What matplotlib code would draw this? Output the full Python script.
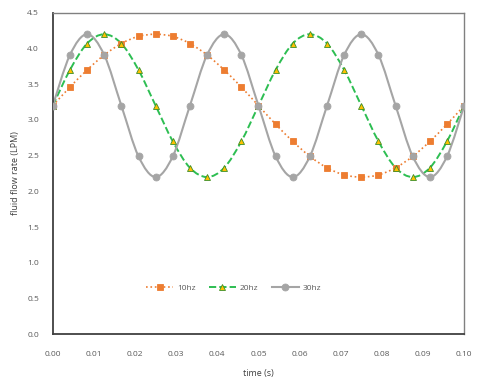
import matplotlib.pyplot as plt
from matplotlib.path import Path
from matplotlib.patches import PathPatch
from matplotlib.lines import Line2D
import numpy as np

# time samples (s), 24 steps over 0.1 s
time_s = [k * 0.1 / 24 for k in range(25)]

flow_10hz = [3.20, 3.46, 3.70, 3.91, 4.07, 4.17, 4.20, 4.17, 4.07, 3.91, 3.70, 3.46,
             3.20, 2.94, 2.70, 2.49, 2.33, 2.23, 2.20, 2.23, 2.33, 2.49, 2.70, 2.94, 3.20]
flow_20hz = [3.20, 3.70, 4.07, 4.20, 4.07, 3.70, 3.20, 2.70, 2.33, 2.20, 2.33, 2.70,
             3.20, 3.70, 4.07, 4.20, 4.07, 3.70, 3.20, 2.70, 2.33, 2.20, 2.33, 2.70, 3.20]
flow_30hz = [3.20, 3.91, 4.20, 3.91, 3.20, 2.49, 2.20, 2.49, 3.20, 3.91, 4.20, 3.91,
             3.20, 2.49, 2.20, 2.49, 3.20, 3.91, 4.20, 3.91, 3.20, 2.49, 2.20, 2.49, 3.20]
labels = ["10hz", "20hz", "30hz"]

x_ticks = [0.00, 0.01, 0.02, 0.03, 0.04, 0.05, 0.06, 0.07, 0.08, 0.09, 0.10]
y_ticks = [0.0, 0.5, 1.0, 1.5, 2.0, 2.5, 3.0, 3.5, 4.0, 4.5]

plt.rcParams['font.family'] = ['Open Sans', 'DejaVu Sans']


def smooth_path(xs, ys):
    # excel-style smoothed line: cubic bezier through the points
    p = np.column_stack([xs, ys])
    verts = [p[0]]
    codes = [Path.MOVETO]
    n = len(p)
    for i in range(n - 1):
        p0 = p[i - 1] if i > 0 else p[i]
        p3 = p[i + 2] if i + 2 < n else p[i + 1]
        c1 = p[i] + (p[i + 1] - p0) / 6
        c2 = p[i + 1] - (p3 - p[i]) / 6
        verts += [c1, c2, p[i + 1]]
        codes += [Path.CURVE4] * 3
    return Path(verts, codes)


fig = plt.figure(figsize=(4.8, 3.89), dpi=100)
ax = fig.add_axes([0.110, 0.141, 0.857, 0.826])

styles = [
    dict(color='#ED7D31', ls=':', lw=1.2, marker='s', ms=4.5, mfc='#ED7D31', mec='#ED7D31'),
    dict(color='#2DBE52', ls='--', lw=1.4, marker='^', ms=5.0, mfc='#FFC000', mec='#3A8F2A'),
    dict(color='#A5A5A5', ls='-', lw=1.5, marker='o', ms=5.0, mfc='#A5A5A5', mec='#A5A5A5'),
]
series = [flow_10hz, flow_20hz, flow_30hz]

handles = []
for ys, st, lab in zip(series, styles, labels):
    patch = PathPatch(smooth_path(time_s, ys), fill=False, edgecolor=st['color'],
                      linestyle=st['ls'], linewidth=st['lw'], zorder=2)
    ax.add_patch(patch)
    ax.plot(time_s, ys, linestyle='none', marker=st['marker'], ms=st['ms'],
            mfc=st['mfc'], mec=st['mec'], mew=0.6, zorder=3)
    handles.append(Line2D([], [], color=st['color'], ls=st['ls'], lw=st['lw'],
                          marker=st['marker'], ms=st['ms'], mfc=st['mfc'],
                          mec=st['mec'], mew=0.6))

ax.set_xlim(0, 0.1)
ax.set_ylim(0, 4.5)
ax.set_xticks(x_ticks)
ax.set_xticklabels([f"{v:.2f}" for v in x_ticks])
ax.set_yticks(y_ticks)
ax.set_yticklabels([f"{v:.1f}" for v in y_ticks])
ax.tick_params(length=0, labelsize=6, labelcolor='#595959')
ax.tick_params(axis='x', pad=12)
ax.tick_params(axis='y', pad=10)

for s in ['left', 'bottom']:
    ax.spines[s].set_color('#404040')
    ax.spines[s].set_linewidth(1.3)
for s in ['top', 'right']:
    ax.spines[s].set_color('#808080')
    ax.spines[s].set_linewidth(1.0)

ax.set_xlabel("time (s)", fontsize=6.5, color='#404040', labelpad=8)
ax.set_ylabel("fluid flow rate (LPM)", fontsize=6.5, color='#404040', labelpad=5)

ax.legend(handles, labels, loc='center', bbox_to_anchor=(0.44, 0.143), ncol=3,
          frameon=False, fontsize=6, labelcolor='#595959', handlelength=3.2,
          columnspacing=1.6, handletextpad=0.5)

fig.savefig("out.png", dpi=100)
